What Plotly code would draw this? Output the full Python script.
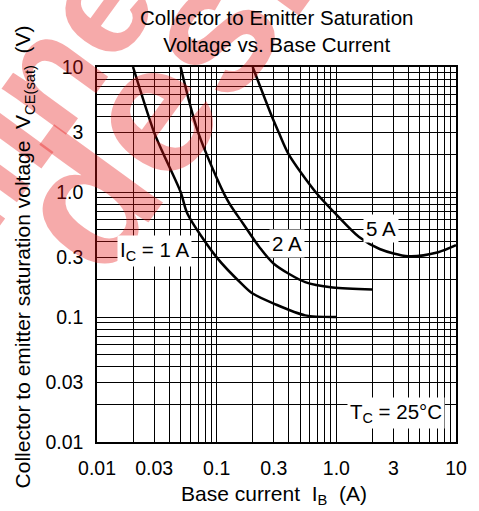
import plotly.graph_objects as go

# ---- data ----
ib_1a = [0.02, 0.03, 0.036, 0.05, 0.057, 0.1, 0.166, 0.2, 0.3, 0.55, 1.0]
vce_1a = [10, 3, 2, 1, 0.67, 0.30, 0.18, 0.154, 0.128, 0.103, 0.1]

ib_2a = [0.05, 0.07, 0.123, 0.166, 0.227, 0.3, 0.55, 0.93, 2.0]
vce_2a = [10, 3, 0.86, 0.56, 0.363, 0.267, 0.19, 0.172, 0.166]

ib_5a = [0.2, 0.29, 0.33, 0.4, 0.67, 1.0, 1.55, 2.3, 4.0, 7.1, 10]
vce_5a = [10, 4, 3, 2, 1, 0.66, 0.436, 0.35, 0.306, 0.33, 0.375]

tick_vals = [0.01, 0.03, 0.1, 0.3, 1, 3, 10]
tick_text = ["0.01", "0.03", "0.1", "0.3", "1.0", "3", "10"]
minor_vals = [m * d for d in (0.01, 0.1, 1) for m in (2, 4, 5, 6, 7, 8, 9)]

FONT = "Liberation Sans, Arial, sans-serif"

fig = go.Figure()
for xs, ys in ((ib_1a, vce_1a), (ib_2a, vce_2a), (ib_5a, vce_5a)):
    fig.add_trace(go.Scatter(x=xs, y=ys, mode="lines",
                             line=dict(color="black", width=2.5, shape="spline", smoothing=0.8),
                             showlegend=False, hoverinfo="skip"))

axis_common = dict(
    type="log", showline=True, mirror=True, linecolor="black", linewidth=1.5,
    showgrid=True, gridcolor="black", gridwidth=1,
    tickvals=tick_vals, ticktext=tick_text, ticks="",
    tickfont=dict(family=FONT, size=19.5, color="black"),
    minor=dict(tickvals=minor_vals, showgrid=True, gridcolor="black", gridwidth=1, ticks=""),
    zeroline=False,
)
fig.update_xaxes(range=[-2, 1], ticklabelstandoff=8, **axis_common)
fig.update_yaxes(range=[-2, 1], ticklabelstandoff=8, **axis_common)

# watermark (red, semi-transparent, rotated)
PW, PH, L, T = 361, 375, 97, 67
def px_to_paper(px, py):
    return (px - L) / PW, 1 - (py - T) / PH

for word, cx, cy, sz in (("design", 228, 5, 185), ("online", -10, 150, 150)):
    xp, yp = px_to_paper(cx, cy)
    fig.add_annotation(text="<b>" + word + "</b>", xref="paper", yref="paper",
                       x=xp, y=yp, xanchor="center", yanchor="middle",
                       showarrow=False, textangle=-54,
                       font=dict(family=FONT, size=sz, color="rgba(230,20,20,0.36)"))

lab = dict(family=FONT, size=20.5, color="black")
for txt, x, y in (("I<sub>C</sub> = 1 A", -1.52, -0.47),
                  ("2 A", -0.41, -0.41),
                  ("5 A", 0.373, -0.29),
                  ("T<sub>C</sub> = 25°C", 0.50, -1.77)):
    fig.add_annotation(text=txt, x=x, y=y, xref="x", yref="y", showarrow=False,
                       font=lab, bgcolor="white", borderpad=2)

# axis titles
xp, yp = px_to_paper(24, 257)
fig.add_annotation(text="Collector to emitter saturation voltage&nbsp;&nbsp;V<sub>CE(sat)</sub>&nbsp;&nbsp;(V)",
                   xref="paper", yref="paper", x=xp, y=yp, xanchor="center", yanchor="middle",
                   textangle=-90, showarrow=False, font=dict(family=FONT, size=21, color="black"))
xp, yp = px_to_paper(275, 495)
fig.add_annotation(text="Base current&nbsp;&nbsp;I<sub>B</sub>&nbsp;&nbsp;(A)", xref="paper", yref="paper",
                   x=xp, y=yp, xanchor="center", yanchor="middle", showarrow=False,
                   font=dict(family=FONT, size=21, color="black"))
# chart title
xp, yp = px_to_paper(277.5, 31)
fig.add_annotation(text="Collector to Emitter Saturation<br>Voltage vs. Base Current",
                   xref="paper", yref="paper", x=xp, y=yp, xanchor="center", yanchor="middle",
                   showarrow=False, font=dict(family=FONT, size=20.5, color="black"))

fig.update_layout(
    width=479, height=511,
    margin=dict(l=97, r=21, t=67, b=69),
    paper_bgcolor="white", plot_bgcolor="white",
)
fig.write_html("out.html", config={"displayModeBar": False},
               post_script="document.body.style.margin='0';")
